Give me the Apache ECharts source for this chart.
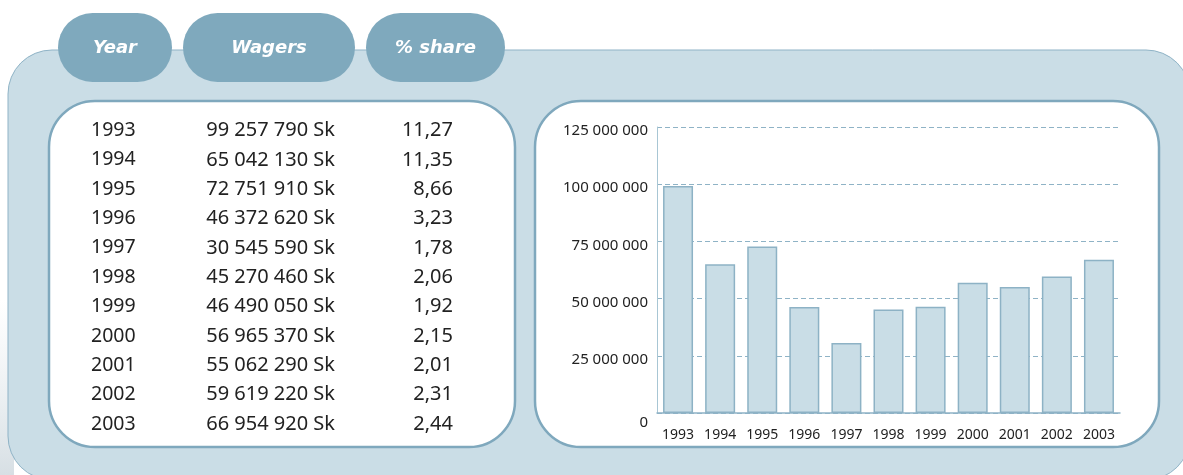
<!DOCTYPE html>
<html>
<head>
<meta charset="utf-8">
<script src="https://cdn.jsdelivr.net/npm/echarts@6/dist/echarts.min.js"></script>
<style>
html,body{margin:0;padding:0;background:#fff;}
#c{width:1183px;height:475px;}
</style>
</head>
<body>
<div id="c"></div>
<script>
var years = ['1993','1994','1995','1996','1997','1998','1999','2000','2001','2002','2003'];
var wagers = [99257790, 65042130, 72751910, 46372620, 30545590, 45270460, 46490050, 56965370, 55062290, 59619220, 66954920];
var shares = ['11,27','11,35','8,66','3,23','1,78','2,06','1,92','2,15','2,01','2,31','2,44'];
var headers = ['Year','Wagers','% share'];
var yTicks = [0, 25000000, 50000000, 75000000, 100000000, 125000000];

function fmt(n){ return String(n).replace(/\B(?=(\d{3})+(?!\d))/g,' '); }

var FONT = 'Noto Sans';
var PANEL = '#cadde6', EDGE = '#7fa8bd', PILL = '#7fa9bd';

var g = [];
// faint grey shading at the lower left, outside the panel
g.push({type:'rect', z:-11, shape:{x:0,y:300,width:14,height:175},
  style:{fill:new echarts.graphic.LinearGradient(0,0,0,1,[{offset:0,color:'rgba(225,232,236,0)'},{offset:1,color:'rgba(215,223,228,1)'}])}});
// outer panel
g.push({type:'rect', z:-10, shape:{x:8,y:50,width:1182,height:430,r:44}, style:{fill:PANEL, stroke:'#8fb3c6', lineWidth:1}});
// pills
var pills = [[58,114],[183,172],[366,139]];
pills.forEach(function(p,i){
  g.push({type:'rect', z:-9, shape:{x:p[0],y:13,width:p[1],height:69,r:34.5}, style:{fill:PILL}});
  g.push({type:'text', z:-8, style:{x:p[0]+p[1]/2, y:48, text:headers[i], textAlign:'center', textVerticalAlign:'middle', fill:'#fff', font:'italic bold 18px "DejaVu Sans"'}});
});
// white boxes
g.push({type:'rect', z:-9, shape:{x:49,y:101,width:466,height:346,r:46}, style:{fill:'#fff', stroke:EDGE, lineWidth:2.5}});
g.push({type:'rect', z:-9, shape:{x:535,y:101,width:624,height:346,r:46}, style:{fill:'#fff', stroke:EDGE, lineWidth:2.5}});
// table text
years.forEach(function(y,i){
  var ty = 130.5 + i*29.35;
  var f = '20px "'+FONT+'"';
  g.push({type:'text', z:-8, style:{x:91, y:ty, text:y, textAlign:'left', textVerticalAlign:'middle', fill:'#222', font:'19.5px "'+FONT+'"'}});
  g.push({type:'text', z:-8, style:{x:335, y:ty, text:fmt(wagers[i])+' Sk', textAlign:'right', textVerticalAlign:'middle', fill:'#222', font:f}});
  g.push({type:'text', z:-8, style:{x:453, y:ty, text:shares[i], textAlign:'right', textVerticalAlign:'middle', fill:'#222', font:f}});
});

var chart = echarts.init(document.getElementById('c'), null, {renderer:'canvas'});
chart.setOption({
  animation:false,
  backgroundColor:'#fff',
  graphic: g,
  grid:{left:657, right:63, top:127, bottom:62, containLabel:false},
  xAxis:{
    type:'category', data:years,
    axisLine:{show:true, lineStyle:{color:'#8fb3c6', width:1.5}},
    axisTick:{show:false},
    axisLabel:{color:'#222', fontSize:14, fontFamily:FONT, margin:15, interval:0}
  },
  yAxis:{
    type:'value', min:0, max:125000000, interval:25000000,
    axisLine:{show:true, lineStyle:{color:'#a8c6d4', width:1}},
    axisTick:{show:false},
    splitLine:{show:true, lineStyle:{color:'#8fb3c6', type:[5,3], width:1}},
    axisLabel:{color:'#222', fontSize:15, fontFamily:FONT, margin:9,
      formatter:function(v){ if(yTicks.indexOf(v)<0) return ''; return v===0 ? '{z|0}' : '{n|'+fmt(v)+'}'; },
      rich:{ n:{fontSize:15, fontFamily:FONT, color:'#222', padding:[8,0,0,0]}, z:{fontSize:15, fontFamily:FONT, color:'#222', padding:[20,0,0,0]} }
    }
  },
  series:[{
    type:'bar', data:wagers, barWidth:30,
    itemStyle:{color:'#c9dde6', borderColor:'#8db2c5', borderWidth:1.5}
  }]
});
</script>
</body>
</html>
